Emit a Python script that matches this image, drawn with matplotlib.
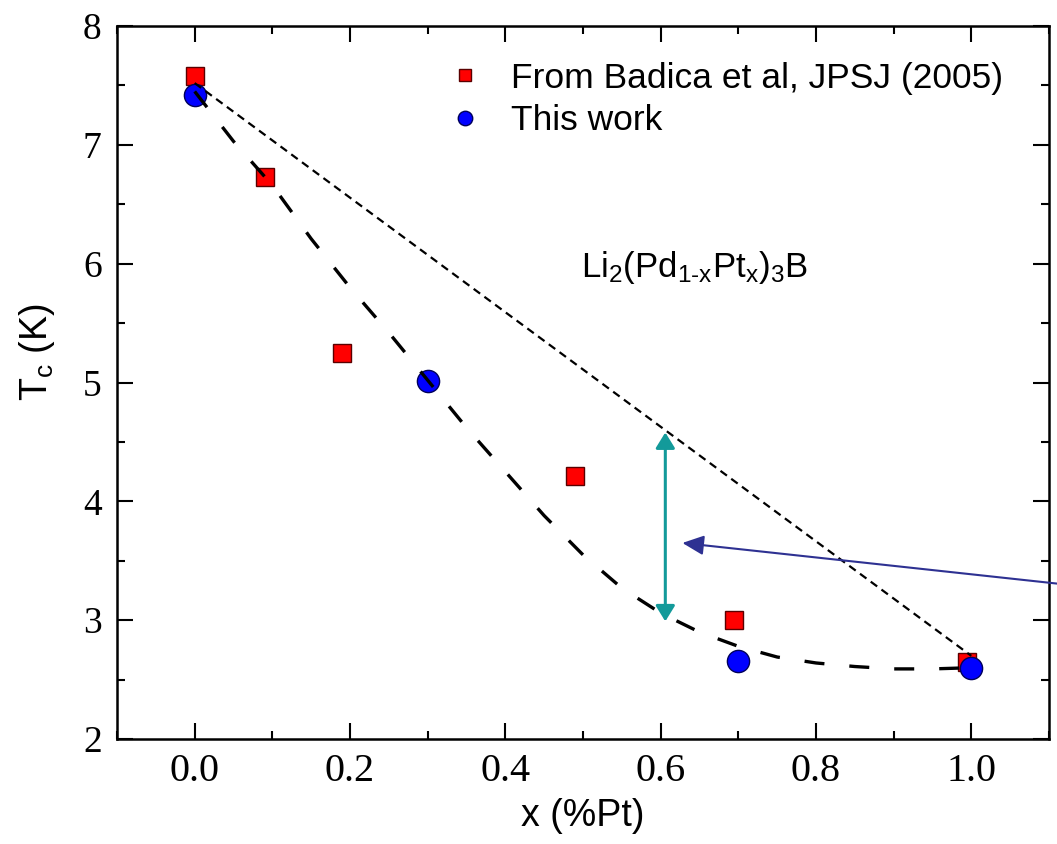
import numpy as np
import matplotlib
matplotlib.use("Agg")
import matplotlib.pyplot as plt

plt.rcParams['font.family'] = ['Liberation Serif', 'DejaVu Serif']
plt.rcParams['mathtext.fontset'] = 'custom'
plt.rcParams['mathtext.rm'] = 'Liberation Sans'
plt.rcParams['mathtext.it'] = 'Liberation Sans:italic'

# data
badica_x = [0.0, 0.09, 0.19, 0.49, 0.695, 0.995]
badica_tc = [7.58, 6.73, 5.25, 4.21, 3.00, 2.65]

this_x = [0.0, 0.3, 0.7, 1.0]
this_tc = [7.42, 5.01, 2.66, 2.60]

# long-dash guide curve through "this work"
fit_x = [0.0, 0.05, 0.1, 0.15, 0.2, 0.25, 0.3, 0.35, 0.4, 0.45, 0.5,
         0.55, 0.6, 0.65, 0.7, 0.75, 0.8, 0.85, 0.9, 0.95, 1.0]
fit_tc = [7.45, 7.03, 6.66, 6.21, 5.80, 5.42, 5.02, 4.62, 4.25, 3.88, 3.55,
          3.27, 3.06, 2.90, 2.78, 2.69, 2.64, 2.61, 2.59, 2.59, 2.60]

# short-dash straight line
lin_x = [0.0, 1.0]
lin_tc = [7.52, 2.70]

# teal double arrow and blue pointer
gap_x = 0.606
gap_top, gap_bot = 4.58, 2.99
ptr_tip = (0.628, 3.65)
ptr_tail = (1.164, 3.27)

sans = 'Liberation Sans'

fig = plt.figure(figsize=(10.57, 8.44), dpi=100)
ax = fig.add_axes([0.1107, 0.1244, 0.8817, 0.8447])

ax.plot(badica_x, badica_tc, ls='none', marker='s', ms=13, mfc='#ff0000',
        mec='#5a0000', mew=1.0, label='From Badica et al, JPSJ (2005)', zorder=3)
ax.plot(this_x, this_tc, ls='none', marker='o', ms=16, mfc='#0000ff',
        mec='#00005a', mew=1.0, label='This work', zorder=3)

ax.plot(fit_x, fit_tc, color='black', lw=2.4, ls=(0, (6, 7.5)), zorder=4)
ax.plot(lin_x, lin_tc, color='black', lw=1.6, ls=(0, (3.6, 2.4)), zorder=4)

ax.annotate('', xy=(gap_x, gap_top), xytext=(gap_x, gap_bot),
            arrowprops=dict(arrowstyle='<|-|>,head_length=0.47,head_width=0.29',
                            color='#139a9a', lw=2.2, shrinkA=0, shrinkB=0,
                            mutation_scale=20), zorder=5)
ax.annotate('', xy=ptr_tip, xytext=ptr_tail, annotation_clip=False,
            arrowprops=dict(arrowstyle='-|>,head_length=0.65,head_width=0.3',
                            color='#2e3192', lw=1.5, shrinkA=0, shrinkB=0,
                            mutation_scale=20, clip_on=False), zorder=5)

ax.text(0.643, 5.97, r'$\mathrm{Li_2(Pd_{1‐x}Pt_x)_3B}$', fontsize=25,
        ha='center', va='center')

ax.set_xlim(-0.1, 1.1)
ax.set_ylim(2, 8)
ax.set_xticks([0.0, 0.2, 0.4, 0.6, 0.8, 1.0])
ax.set_xticks(np.arange(-0.1, 1.11, 0.1), minor=True)
ax.set_yticks([2, 3, 4, 5, 6, 7, 8])
ax.set_yticks(np.arange(2, 8.01, 0.5), minor=True)
ax.set_xticklabels(['0.0', '0.2', '0.4', '0.6', '0.8', '1.0'])

ax.tick_params(which='both', direction='in', top=True, right=True, width=1.5)
ax.tick_params(which='major', length=11.5)
ax.tick_params(which='minor', length=6)
ax.tick_params(axis='x', labelsize=29, pad=10)
ax.tick_params(axis='y', labelsize=27, pad=11)
for s in ax.spines.values():
    s.set_linewidth(1.8)

ax.set_xlabel('x (%Pt)', fontsize=27, fontfamily=sans, labelpad=6)
ax.set_ylabel(r'T$_\mathrm{c}$ (K)', fontsize=27, fontfamily=sans)
ax.yaxis.set_label_coords(-0.064, 0.542)

leg = ax.legend(loc='upper left', bbox_to_anchor=(0.354, 0.95), frameon=False,
                prop={'family': sans, 'size': 25.5}, handlelength=1.0,
                handletextpad=0.8, labelspacing=0.27, borderpad=0,
                borderaxespad=0, markerscale=0.65)

fig.savefig('out.png', dpi=100)
